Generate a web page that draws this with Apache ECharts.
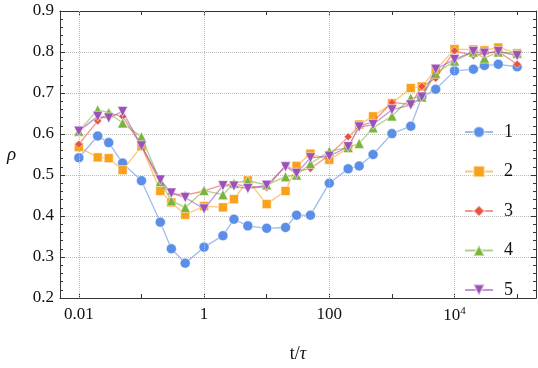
<!DOCTYPE html>
<html>
<head>
<meta charset="utf-8">
<script src="https://cdn.jsdelivr.net/npm/echarts@6/dist/echarts.min.js"></script>
<style>
  html, body { margin: 0; padding: 0; background: #fff; }
  #main { width: 538px; height: 368px; }
</style>
</head>
<body>
<div id="main"></div>
<script>
// t/tau sampling points (log axis)
var tVals = [0.01, 0.02, 0.03, 0.05, 0.1, 0.2, 0.3, 0.5, 1, 2, 3, 5, 10, 20, 30, 50,
             100, 200, 300, 500, 1000, 2000, 3000, 5000, 10000, 20000, 30000, 50000, 100000];

var rho1 = [0.542, 0.595, 0.579, 0.529, 0.486, 0.385, 0.320, 0.285, 0.324, 0.352, 0.392, 0.376, 0.370, 0.372, 0.402,
            0.402, 0.480, 0.515, 0.522, 0.550, 0.601, 0.619, 0.690, 0.709, 0.754, 0.758, 0.767, 0.770, 0.764];
var rho2 = [0.568, 0.543, 0.541, 0.512, 0.570, 0.461, 0.433, 0.403, 0.424, 0.421, 0.441, 0.487, 0.429, 0.461, 0.522,
            0.552, 0.537, 0.566, 0.623, 0.643, 0.675, 0.712, 0.716, 0.756, 0.807, 0.806, 0.804, 0.811, 0.797];
var rho3 = [0.575, 0.632, 0.651, 0.643, 0.571, 0.480, 0.455, 0.451, 0.461, 0.476, 0.478, 0.472, 0.469, 0.524, 0.508,
            0.516, 0.548, 0.593, 0.619, 0.630, 0.677, 0.672, 0.716, 0.736, 0.803, 0.791, 0.797, 0.801, 0.770];
var rho4 = [0.607, 0.659, 0.652, 0.627, 0.593, 0.484, 0.437, 0.421, 0.462, 0.452, 0.480, 0.486, 0.476, 0.496, 0.500,
            0.528, 0.558, 0.567, 0.577, 0.615, 0.644, 0.688, 0.690, 0.748, 0.778, 0.800, 0.785, 0.800, 0.797];
var rho5 = [0.607, 0.643, 0.639, 0.655, 0.571, 0.488, 0.456, 0.445, 0.417, 0.474, 0.473, 0.467, 0.475, 0.520, 0.504,
            0.542, 0.546, 0.569, 0.617, 0.623, 0.659, 0.671, 0.690, 0.758, 0.782, 0.801, 0.797, 0.801, 0.791];

var names = ['1', '2', '3', '4', '5'];
var colors = ['#5b8ee6', '#f9a11b', '#e8533f', '#7bb33d', '#9a52b8'];
var symbols = ['circle', 'rect', 'diamond', 'triangle', 'triangle'];
var symSizes = [10, 9, 8, 10, 10];
var symRotates = [0, 0, 0, 0, 180];

// labelled decades, with dotted grid lines
var gridX = [0.01, 1, 100, 10000];
var xMin = 0.005, xMax = 200000;

var serif = '"Liberation Serif", "Times New Roman", Times, serif';
var axisCol = '#333';

function fmtX(v) {
  var e = Math.log10(v);
  var r = Math.round(e);
  if (Math.abs(e - r) > 1e-6 || r % 2 !== 0) return '';
  if (r >= 4) return '10{sup|' + r + '}';
  return String(Math.pow(10, r) >= 1 ? Math.pow(10, r) : Math.pow(10, r).toFixed(-r));
}

var allRho = [rho1, rho2, rho3, rho4, rho5];
var series = [];
for (var s = 0; s < 5; s++) {
  var pts = [];
  for (var i = 0; i < tVals.length; i++) {
    pts.push([tVals[i], allRho[s][i]]);
  }
  var ser = {
    name: names[s],
    type: 'line',
    data: pts,
    symbol: symbols[s],
    symbolSize: symSizes[s],
    symbolRotate: symRotates[s],
    showAllSymbol: true,
    itemStyle: { color: colors[s], borderColor: 'rgba(255,255,255,0.5)', borderWidth: 1 },
    lineStyle: { color: colors[s], width: 1.3, opacity: 0.6 },
    z: 3 + s
  };
  if (s === 0) {
    ser.markLine = {
      silent: true,
      symbol: 'none',
      label: { show: false },
      lineStyle: { color: '#bbb', type: 'dotted', width: 1 },
      data: gridX.map(function (g) { return { xAxis: g }; }),
      animation: false
    };
  }
  series.push(ser);
}

var myChart = echarts.init(document.getElementById('main'));
myChart.setOption({
  animation: false,
  grid: { left: 60, right: 2, top: 11, bottom: 62 },
  legend: {
    orient: 'vertical',
    left: 464,
    top: 123,
    padding: 0,
    itemWidth: 28,
    itemHeight: 14,
    itemGap: 21.5,
    textStyle: { fontFamily: serif, fontSize: 18, color: '#111', padding: [0, 0, 0, 6] },
    data: names
  },
  xAxis: [{
    type: 'log',
    logBase: 10,
    min: xMin,
    max: xMax,
    name: 't/{i|τ}',
    nameLocation: 'middle',
    nameGap: 47,
    nameTextStyle: {
      fontFamily: serif, fontSize: 18, color: '#111',
      rich: { i: { fontFamily: serif, fontSize: 18, fontStyle: 'italic', color: '#111' } }
    },
    axisLine: { lineStyle: { color: axisCol, width: 1 } },
    axisTick: { inside: true, length: 4, lineStyle: { color: axisCol } },
    axisLabel: {
      formatter: fmtX,
      fontFamily: serif, fontSize: 17, color: '#111', margin: 8,
      showMinLabel: false, showMaxLabel: false,
      rich: { sup: { fontFamily: serif, fontSize: 11, color: '#111', padding: [0, 0, 9, 0] } }
    },
    splitLine: { show: false },
    minorSplitLine: { show: false }
  }, {
    type: 'log',
    logBase: 10,
    min: xMin,
    max: xMax,
    position: 'top',
    axisLine: { lineStyle: { color: axisCol, width: 1 } },
    axisTick: { inside: true, length: 4, lineStyle: { color: axisCol } },
    axisLabel: { show: false },
    splitLine: { show: false },
    minorSplitLine: { show: false }
  }],
  yAxis: [{
    type: 'value',
    min: 0.2,
    max: 0.9,
    interval: 0.1,
    name: 'ρ',
    nameLocation: 'middle',
    nameRotate: 0,
    nameGap: 44,
    nameTextStyle: { fontFamily: serif, fontSize: 19, fontStyle: 'italic', color: '#111' },
    axisLine: { show: true, lineStyle: { color: axisCol, width: 1 } },
    axisTick: { show: true, inside: true, length: 5, lineStyle: { color: axisCol } },
    minorTick: { show: true, splitNumber: 5, length: 3, lineStyle: { color: axisCol } },
    axisLabel: {
      fontFamily: serif, fontSize: 17, color: '#111', margin: 6,
      formatter: function (v) { return v.toFixed(1); }
    },
    splitLine: { show: true, lineStyle: { color: '#bbb', type: 'dotted', width: 1 } }
  }, {
    type: 'value',
    min: 0.2,
    max: 0.9,
    interval: 0.1,
    position: 'right',
    axisLine: { show: true, lineStyle: { color: axisCol, width: 1 } },
    axisTick: { show: true, inside: true, length: 5, lineStyle: { color: axisCol } },
    minorTick: { show: true, splitNumber: 5, length: 3, lineStyle: { color: axisCol } },
    axisLabel: { show: false },
    splitLine: { show: false }
  }],
  series: series
});
</script>
</body>
</html>
